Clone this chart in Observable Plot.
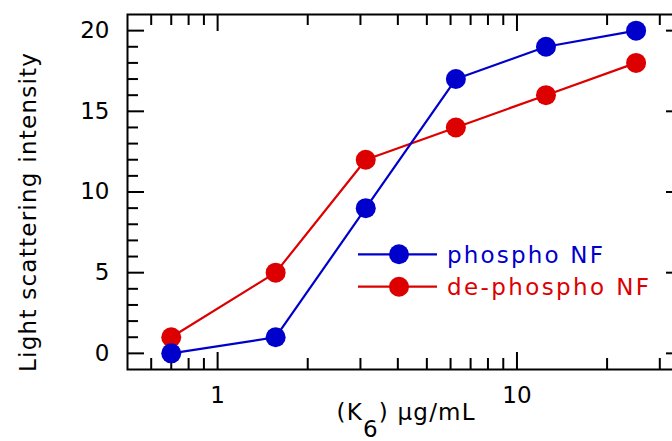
<!DOCTYPE html>
<html><head><meta charset="utf-8">
<script src="https://cdn.jsdelivr.net/npm/d3@7"></script>
<script src="https://cdn.jsdelivr.net/npm/@observablehq/plot@0.6"></script>
<style>
html,body{margin:0;padding:0;background:#fff;overflow:hidden;}
#wrap{position:relative;width:672px;height:441px;}
#legend{position:absolute;left:0;top:0;pointer-events:none;font-family:"DejaVu Sans",sans-serif;font-size:23px;}
</style></head><body><div id="wrap"></div>
<script>
const conc = [0.7, 1.5625, 3.125, 6.25, 12.5, 25];
const phospho = [0, 1, 9, 17, 19, 20];
const dephospho = [1, 5, 12, 14, 16, 18];
const seriesNames = ["phospho NF", "de-phospho NF"];
const seriesColors = ["#0000cc", "#dd0000"];
const xMajorTicks = [1, 10];
const xMinorTicks = [0.6, 0.7, 0.8, 0.9, 2, 3, 4, 5, 6, 7, 8, 9, 20, 30];
const yMajorTicks = [0, 5, 10, 15, 20];
const yMinorTicks = [1, 2, 3, 4, 6, 7, 8, 9, 11, 12, 13, 14, 16, 17, 18, 19];
const xLabelParts = ["(K", "6", ") μg/mL"];
const yLabel = "Light scattering intensity";

const W = 672, H = 441, mL = 127, mT = 14, mB = 72, mR = -11;
const FW = W - mL - mR, FH = H - mT - mB;
const MAJ = 17, MIN = 11;
const FONT = "'DejaVu Sans', sans-serif";

// draw de-phospho first so phospho sits on top
const rows = [];
conc.forEach((c, i) => rows.push({c, v: dephospho[i], s: seriesNames[1]}));
conc.forEach((c, i) => rows.push({c, v: phospho[i], s: seriesNames[0]}));

const tickStyle = {stroke: "black", strokeWidth: 2};
const txt = {fontSize: 23, fill: "black"};
const chart = Plot.plot({
  width: W, height: H,
  marginLeft: mL, marginTop: mT, marginBottom: mB, marginRight: mR,
  style: {fontFamily: FONT, background: "white", color: "black"},
  x: {type: "log", domain: [0.5, 36], axis: null},
  y: {domain: [-1, 21], axis: null},
  color: {domain: seriesNames, range: seriesColors},
  marks: [
    Plot.ruleX(xMajorTicks, {x: d => d, insetTop: FH - MAJ, ...tickStyle}),
    Plot.ruleX(xMajorTicks, {x: d => d, insetBottom: FH - MAJ, ...tickStyle}),
    Plot.ruleX(xMinorTicks, {x: d => d, insetTop: FH - MIN, ...tickStyle}),
    Plot.ruleX(xMinorTicks, {x: d => d, insetBottom: FH - MIN, ...tickStyle}),
    Plot.ruleY(yMajorTicks, {y: d => d, insetRight: FW - MAJ, ...tickStyle}),
    Plot.ruleY(yMajorTicks, {y: d => d, insetLeft: FW - MAJ, ...tickStyle}),
    Plot.ruleY(yMinorTicks, {y: d => d, insetRight: FW - MIN, ...tickStyle}),
    Plot.ruleY(yMinorTicks, {y: d => d, insetLeft: FW - MIN, ...tickStyle}),
    Plot.frame({stroke: "black", strokeWidth: 2}),
    Plot.text(xMajorTicks, {x: d => d, text: d => String(d), frameAnchor: "bottom", dy: 33, ...txt}),
    Plot.text(yMajorTicks, {y: d => d, text: d => String(d), frameAnchor: "left", dx: -18, textAnchor: "end", ...txt}),
    Plot.text([yLabel], {frameAnchor: "left", textAnchor: "middle", rotate: -90, dx: -99, dy: 20.5, ...txt}),
    Plot.text([xLabelParts.join("")], {frameAnchor: "bottom", textAnchor: "middle", dy: 50, ...txt}),
    Plot.line(rows, {x: "c", y: "v", stroke: "s", z: "s", strokeWidth: 2.2}),
    Plot.dot(rows, {x: "c", y: "v", fill: "s", r: 10})
  ]
});
document.getElementById("wrap").appendChild(chart);

const texts = d3.select(chart).selectAll("text");
// y label width to match reference
texts.filter(function() { return this.textContent === yLabel; })
  .attr("textLength", 319).attr("lengthAdjust", "spacing");
// subscript in x label
texts.filter(function() { return this.textContent === xLabelParts.join(""); })
  .each(function() {
    const t = d3.select(this);
    t.text(null).attr("textLength", 138).attr("lengthAdjust", "spacing");
    t.append("tspan").text(xLabelParts[0]);
    t.append("tspan").attr("dy", 17).text(xLabelParts[1]);
    t.append("tspan").attr("dy", -17).text(xLabelParts[2]);
  });

// legend overlay
const legendRows = [254.3, 286.7];
const legendTextLen = [156, 202];
const lg = d3.select("#wrap").append("svg").attr("id", "legend").attr("width", W).attr("height", H);
seriesNames.forEach((n, i) => {
  const y = legendRows[i];
  lg.append("line").attr("x1", 358).attr("x2", 437).attr("y1", y).attr("y2", y)
    .attr("stroke", seriesColors[i]).attr("stroke-width", 2.2);
  lg.append("circle").attr("cx", 399).attr("cy", y).attr("r", 10).attr("fill", seriesColors[i]);
  lg.append("text").attr("x", 447).attr("y", y).attr("dy", "0.36em")
    .attr("fill", seriesColors[i]).attr("textLength", legendTextLen[i]).attr("lengthAdjust", "spacing")
    .text(n);
});
</script></body></html>
